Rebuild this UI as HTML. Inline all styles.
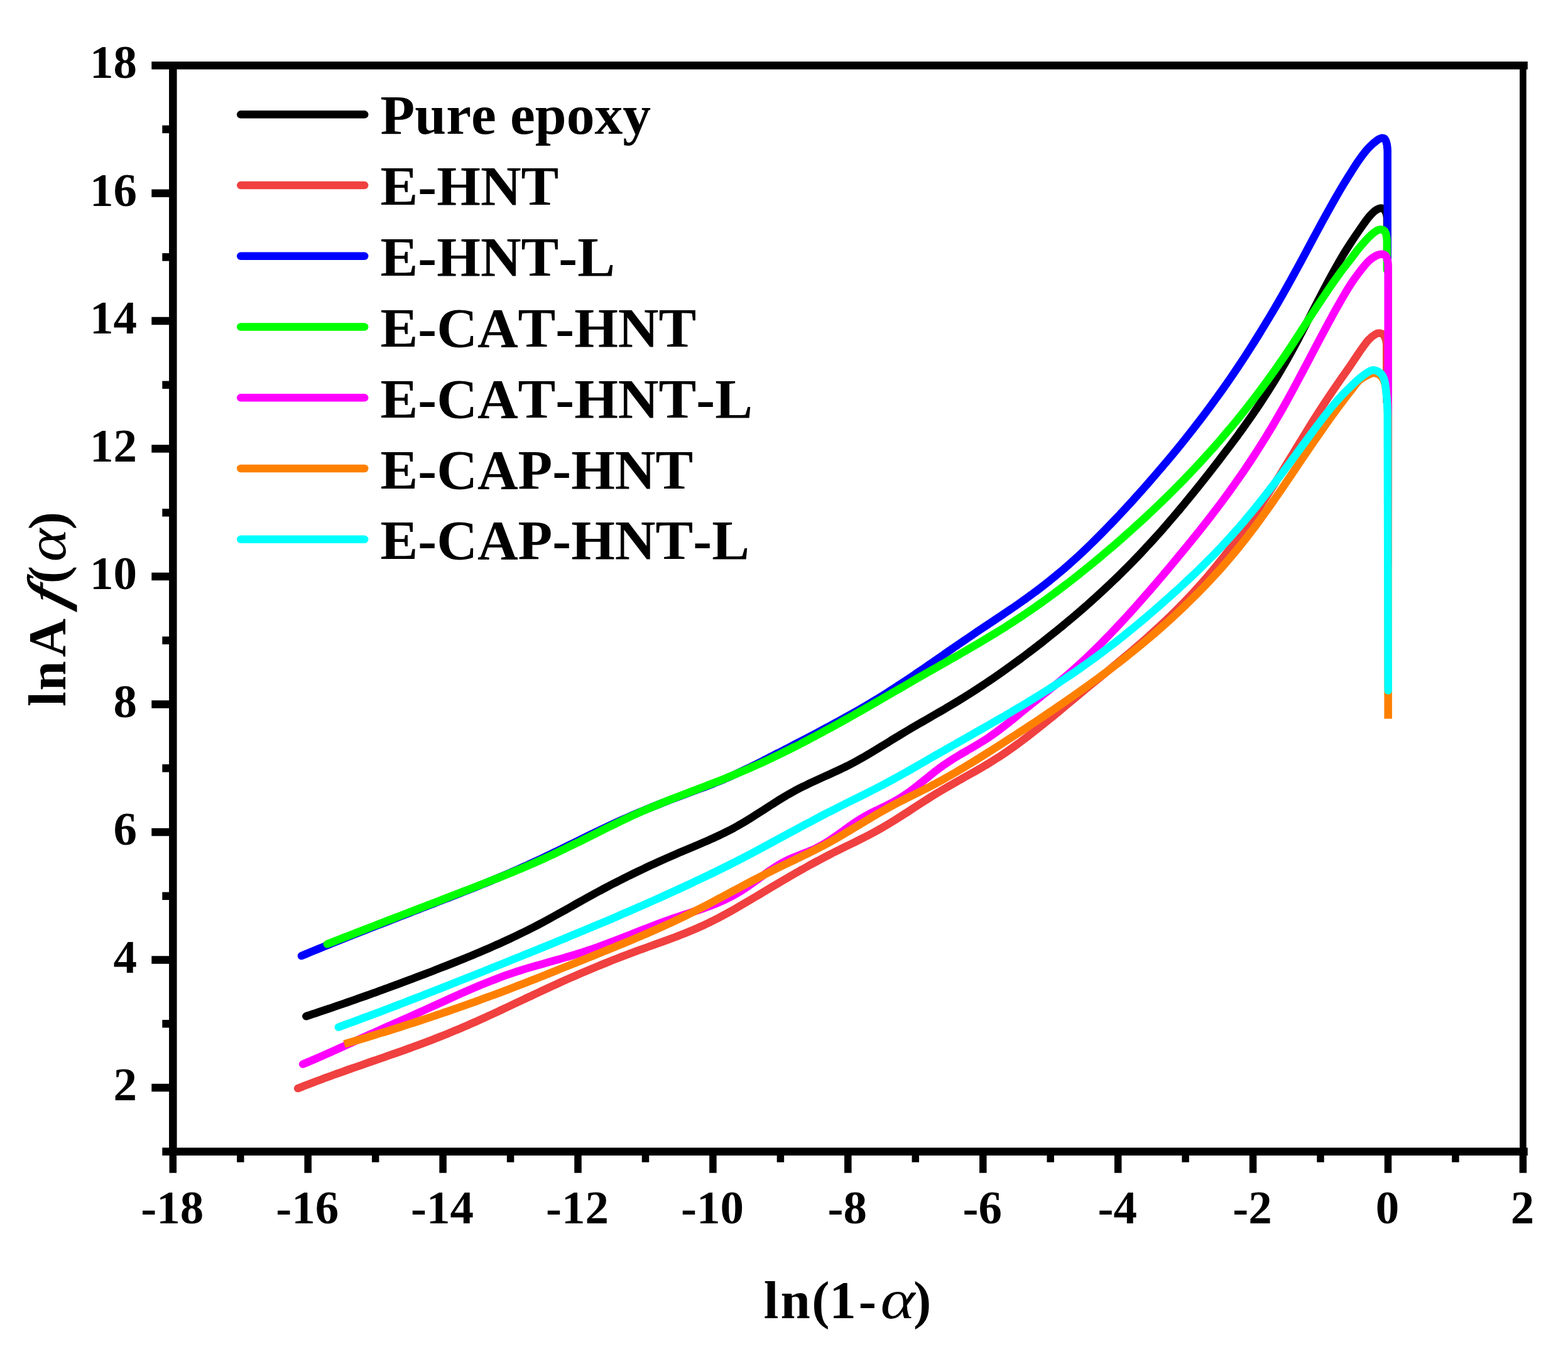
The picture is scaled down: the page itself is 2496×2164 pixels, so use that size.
<!DOCTYPE html>
<html lang="en"><head><meta charset="utf-8"><title>lnA f(α) vs ln(1-α)</title>
<style>html,body{margin:0;padding:0;background:#fff;overflow:hidden}svg{display:block}text{font-family:"Liberation Serif","DejaVu Serif",serif;fill:#000;font-weight:bold;font-kerning:none;white-space:pre}.i{font-style:italic}.n{font-weight:normal}.tk{font-size:75px}.lg{font-size:89.6px}.ti{font-size:85px}</style></head><body>
<svg xmlns="http://www.w3.org/2000/svg" width="2496" height="2164" viewBox="0 0 2496 2164">
<rect x="0" y="0" width="2496" height="2164" fill="#fff"/>
<g fill="none" stroke-width="12.5" stroke-linecap="round" stroke-linejoin="round">
<path stroke="#000000" d="M487.3 1618.2C489.3 1617.6 495.3 1615.6 499.3 1614.3C503.2 1613 507.2 1611.6 511.2 1610.3C515.2 1609 519.2 1607.6 523.2 1606.3C527.2 1604.9 531.2 1603.6 535.1 1602.2C539.1 1600.8 543.1 1599.5 547.1 1598.1C551.1 1596.7 555.1 1595.3 559.1 1593.9C563.1 1592.5 567 1591.1 571 1589.7C575 1588.3 579 1586.9 583 1585.5C587 1584.1 591 1582.6 595 1581.2C598.9 1579.8 602.9 1578.3 606.9 1576.9C610.9 1575.4 614.9 1574 618.9 1572.5C622.9 1571 626.9 1569.6 630.8 1568.1C634.8 1566.6 638.8 1565.1 642.8 1563.6C646.8 1562.1 650.8 1560.7 654.8 1559.2C658.8 1557.6 662.7 1556.1 666.7 1554.6C670.7 1553.1 674.7 1551.6 678.7 1550.1C682.7 1548.5 686.7 1547 690.7 1545.5C694.6 1543.9 698.6 1542.4 702.6 1540.8C706.6 1539.3 710.6 1537.7 714.6 1536.1C718.6 1534.6 722.6 1533 726.5 1531.4C730.5 1529.8 734.5 1528.2 738.5 1526.6C742.5 1524.9 746.5 1523.3 750.5 1521.7C754.4 1520 758.4 1518.4 762.4 1516.7C766.4 1515 770.4 1513.3 774.4 1511.6C778.4 1509.8 782.4 1508.1 786.3 1506.3C790.3 1504.6 794.3 1502.8 798.3 1501C802.3 1499.2 806.3 1497.4 810.3 1495.5C814.3 1493.6 818.2 1491.8 822.2 1489.9C826.2 1487.9 830.2 1486 834.2 1484C838.2 1482.1 842.2 1480.1 846.2 1478C850.1 1476 854.1 1474 858.1 1471.9C862.1 1469.8 866.1 1467.6 870.1 1465.5C874.1 1463.3 878.1 1461.1 882 1458.9C886 1456.7 890 1454.5 894 1452.3C898 1450.1 902 1447.8 906 1445.6C910 1443.3 913.9 1441.1 917.9 1438.8C921.9 1436.6 925.9 1434.3 929.9 1432.1C933.9 1429.9 937.9 1427.7 941.9 1425.5C945.8 1423.3 949.8 1421.1 953.8 1419C957.8 1416.8 961.8 1414.7 965.8 1412.6C969.8 1410.5 973.7 1408.4 977.7 1406.4C981.7 1404.3 985.7 1402.3 989.7 1400.3C993.7 1398.3 997.7 1396.3 1001.7 1394.4C1005.6 1392.4 1009.6 1390.4 1013.6 1388.5C1017.6 1386.6 1021.6 1384.7 1025.6 1382.8C1029.6 1380.9 1033.6 1379.1 1037.5 1377.2C1041.5 1375.4 1045.5 1373.6 1049.5 1371.8C1053.5 1370 1057.5 1368.2 1061.5 1366.4C1065.5 1364.6 1069.4 1362.9 1073.4 1361.2C1077.4 1359.4 1081.4 1357.7 1085.4 1356C1089.4 1354.3 1093.4 1352.6 1097.4 1350.9C1101.3 1349.3 1105.3 1347.6 1109.3 1345.9C1113.3 1344.2 1117.3 1342.5 1121.3 1340.8C1125.3 1339.1 1129.3 1337.3 1133.2 1335.6C1137.2 1333.8 1141.2 1331.9 1145.2 1330C1149.2 1328.2 1153.2 1326.2 1157.2 1324.2C1161.2 1322.2 1165.1 1320.1 1169.1 1317.9C1173.1 1315.7 1177.1 1313.5 1181.1 1311.1C1185.1 1308.8 1189.1 1306.3 1193.1 1303.9C1197 1301.4 1201 1298.9 1205 1296.3C1209 1293.8 1213 1291.2 1217 1288.7C1221 1286.1 1224.9 1283.5 1228.9 1281C1232.9 1278.4 1236.9 1275.9 1240.9 1273.4C1244.9 1271 1248.9 1268.6 1252.9 1266.2C1256.8 1263.9 1260.8 1261.6 1264.8 1259.4C1268.8 1257.3 1272.8 1255.2 1276.8 1253.2C1280.8 1251.2 1284.8 1249.3 1288.7 1247.4C1292.7 1245.5 1296.7 1243.7 1300.7 1241.8C1304.7 1240 1308.7 1238.2 1312.7 1236.4C1316.7 1234.6 1320.6 1232.9 1324.6 1231C1328.6 1229.2 1332.6 1227.4 1336.6 1225.5C1340.6 1223.6 1344.6 1221.7 1348.6 1219.7C1352.5 1217.6 1356.5 1215.5 1360.5 1213.4C1364.5 1211.2 1368.5 1209 1372.5 1206.8C1376.5 1204.5 1380.5 1202.1 1384.4 1199.8C1388.4 1197.4 1392.4 1195 1396.4 1192.6C1400.4 1190.2 1404.4 1187.7 1408.4 1185.3C1412.4 1182.9 1416.3 1180.4 1420.3 1177.9C1424.3 1175.5 1428.3 1173.1 1432.3 1170.6C1436.3 1168.2 1440.3 1165.8 1444.2 1163.5C1448.2 1161.1 1452.2 1158.8 1456.2 1156.4C1460.2 1154.1 1464.2 1151.8 1468.2 1149.5C1472.2 1147.2 1476.1 1144.9 1480.1 1142.6C1484.1 1140.3 1488.1 1138 1492.1 1135.7C1496.1 1133.4 1500.1 1131.1 1504.1 1128.8C1508 1126.4 1512 1124.1 1516 1121.7C1520 1119.3 1524 1116.9 1528 1114.4C1532 1112 1536 1109.5 1539.9 1107C1543.9 1104.5 1547.9 1101.9 1551.9 1099.4C1555.9 1096.8 1559.9 1094.2 1563.9 1091.5C1567.9 1088.9 1571.8 1086.2 1575.8 1083.5C1579.8 1080.8 1583.8 1078.1 1587.8 1075.3C1591.8 1072.5 1595.8 1069.7 1599.8 1066.9C1603.7 1064.1 1607.7 1061.2 1611.7 1058.3C1615.7 1055.4 1619.7 1052.5 1623.7 1049.6C1627.7 1046.6 1631.7 1043.6 1635.6 1040.6C1639.6 1037.6 1643.6 1034.6 1647.6 1031.5C1651.6 1028.4 1655.6 1025.3 1659.6 1022.2C1663.6 1019.1 1667.5 1015.9 1671.5 1012.7C1675.5 1009.5 1679.5 1006.3 1683.5 1003.1C1687.5 999.8 1691.5 996.6 1695.4 993.2C1699.4 989.9 1703.4 986.6 1707.4 983.2C1711.4 979.9 1715.4 976.4 1719.4 973C1723.4 969.6 1727.3 966.1 1731.3 962.6C1735.3 959 1739.3 955.5 1743.3 951.9C1747.3 948.3 1751.3 944.6 1755.3 940.9C1759.2 937.2 1763.2 933.5 1767.2 929.7C1771.2 925.9 1775.2 922.1 1779.2 918.2C1783.2 914.4 1787.2 910.4 1791.1 906.4C1795.1 902.5 1799.1 898.4 1803.1 894.3C1807.1 890.3 1811.1 886.1 1815.1 881.9C1819.1 877.7 1823 873.4 1827 869.1C1831 864.8 1835 860.4 1839 856C1843 851.6 1847 847.1 1851 842.6C1854.9 838 1858.9 833.5 1862.9 828.8C1866.9 824.2 1870.9 819.5 1874.9 814.8C1878.9 810 1882.9 805.3 1886.8 800.4C1890.8 795.6 1894.8 790.7 1898.8 785.8C1902.8 780.9 1906.8 775.9 1910.8 770.9C1914.7 765.9 1918.7 760.9 1922.7 755.8C1926.7 750.7 1930.7 745.6 1934.7 740.4C1938.7 735.3 1942.7 730.1 1946.6 724.8C1950.6 719.6 1954.6 714.3 1958.6 709C1962.6 703.7 1966.6 698.3 1970.6 692.9C1974.6 687.4 1978.5 681.9 1982.5 676.3C1986.5 670.7 1990.5 665 1994.5 659.2C1998.5 653.4 2002.5 647.5 2006.5 641.5C2010.4 635.5 2014.4 629.3 2018.4 623.1C2022.4 616.8 2026.4 610.4 2030.4 603.9C2034.4 597.3 2038.4 590.6 2042.3 583.7C2046.3 576.9 2050.3 569.8 2054.3 562.6C2058.3 555.4 2062.3 548 2066.3 540.5C2070.3 533 2074.2 525.3 2078.2 517.6C2082.2 509.9 2086.2 502.1 2090.2 494.4C2094.2 486.6 2098.2 478.8 2102.2 471.2C2106.1 463.5 2110.1 455.9 2114.1 448.5C2118.1 441 2122.1 433.7 2126.1 426.6C2130.1 419.5 2134.1 412.6 2138 406C2142 399.4 2145.8 393.5 2150 387C2154.2 380.5 2158.8 373.7 2163.5 367C2168.2 360.3 2173.7 352 2178 346.7C2182.2 341.6 2186.1 337.6 2189.6 335.1C2192.9 332.7 2196.5 331.5 2199 331.5C2201.5 331.5 2203.1 332.8 2204.5 335C2206 337.4 2207.7 341.4 2208 346L2208.5 400"/>
<path stroke="#F04040" d="M474.2 1733.1C476.2 1732.3 482.2 1729.9 486.2 1728.4C490.2 1726.8 494.1 1725.3 498.1 1723.8C502.1 1722.2 506.1 1720.7 510.1 1719.3C514.1 1717.8 518.1 1716.3 522.1 1714.9C526.1 1713.4 530.1 1712 534 1710.5C538 1709.1 542 1707.7 546 1706.3C550 1704.8 554 1703.4 558 1702C562 1700.6 566 1699.2 570 1697.9C574 1696.5 577.9 1695.1 581.9 1693.7C585.9 1692.3 589.9 1690.9 593.9 1689.5C597.9 1688.2 601.9 1686.8 605.9 1685.4C609.9 1684 613.8 1682.6 617.8 1681.2C621.8 1679.8 625.8 1678.4 629.8 1677C633.8 1675.6 637.8 1674.2 641.8 1672.8C645.8 1671.3 649.8 1669.9 653.8 1668.5C657.7 1667 661.7 1665.6 665.7 1664.1C669.7 1662.6 673.7 1661.1 677.7 1659.6C681.7 1658.1 685.7 1656.6 689.7 1655.1C693.6 1653.5 697.6 1652 701.6 1650.4C705.6 1648.8 709.6 1647.2 713.6 1645.6C717.6 1644 721.6 1642.3 725.6 1640.6C729.6 1639 733.5 1637.3 737.5 1635.6C741.5 1633.8 745.5 1632.1 749.5 1630.3C753.5 1628.6 757.5 1626.8 761.5 1625C765.5 1623.2 769.5 1621.4 773.5 1619.6C777.4 1617.8 781.4 1615.9 785.4 1614.1C789.4 1612.2 793.4 1610.4 797.4 1608.5C801.4 1606.6 805.4 1604.8 809.4 1602.9C813.3 1601 817.3 1599.1 821.3 1597.2C825.3 1595.4 829.3 1593.5 833.3 1591.6C837.3 1589.7 841.3 1587.8 845.3 1586C849.3 1584.1 853.2 1582.2 857.2 1580.3C861.2 1578.5 865.2 1576.6 869.2 1574.8C873.2 1572.9 877.2 1571.1 881.2 1569.2C885.2 1567.4 889.2 1565.6 893.1 1563.8C897.1 1562 901.1 1560.2 905.1 1558.4C909.1 1556.7 913.1 1554.9 917.1 1553.2C921.1 1551.4 925.1 1549.7 929.1 1548C933 1546.3 937 1544.6 941 1542.9C945 1541.3 949 1539.6 953 1538C957 1536.3 961 1534.7 965 1533.1C969 1531.5 972.9 1529.9 976.9 1528.3C980.9 1526.7 984.9 1525.2 988.9 1523.6C992.9 1522.1 996.9 1520.6 1000.9 1519.1C1004.9 1517.6 1008.9 1516.1 1012.8 1514.6C1016.8 1513.2 1020.8 1511.7 1024.8 1510.3C1028.8 1508.9 1032.8 1507.5 1036.8 1506C1040.8 1504.6 1044.8 1503.2 1048.8 1501.7C1052.8 1500.3 1056.7 1498.9 1060.7 1497.4C1064.7 1495.9 1068.7 1494.5 1072.7 1493C1076.7 1491.4 1080.7 1489.9 1084.7 1488.3C1088.7 1486.8 1092.6 1485.2 1096.6 1483.5C1100.6 1481.9 1104.6 1480.2 1108.6 1478.5C1112.6 1476.7 1116.6 1474.9 1120.6 1473.1C1124.6 1471.2 1128.6 1469.3 1132.5 1467.3C1136.5 1465.3 1140.5 1463.3 1144.5 1461.2C1148.5 1459.1 1152.5 1456.9 1156.5 1454.8C1160.5 1452.6 1164.5 1450.3 1168.5 1448.1C1172.5 1445.8 1176.4 1443.5 1180.4 1441.2C1184.4 1438.9 1188.4 1436.5 1192.4 1434.2C1196.4 1431.8 1200.4 1429.4 1204.4 1427C1208.4 1424.7 1212.3 1422.3 1216.3 1419.9C1220.3 1417.5 1224.3 1415.1 1228.3 1412.7C1232.3 1410.3 1236.3 1408 1240.3 1405.6C1244.3 1403.2 1248.3 1400.9 1252.2 1398.6C1256.2 1396.2 1260.2 1393.9 1264.2 1391.6C1268.2 1389.3 1272.2 1387 1276.2 1384.8C1280.2 1382.5 1284.2 1380.3 1288.2 1378.1C1292.1 1375.9 1296.1 1373.7 1300.1 1371.6C1304.1 1369.4 1308.1 1367.3 1312.1 1365.2C1316.1 1363.1 1320.1 1361.1 1324.1 1359C1328.1 1357 1332 1355 1336 1353.1C1340 1351.1 1344 1349.1 1348 1347.2C1352 1345.2 1356 1343.3 1360 1341.3C1364 1339.3 1368 1337.4 1371.9 1335.3C1375.9 1333.3 1379.9 1331.3 1383.9 1329.2C1387.9 1327.1 1391.9 1325 1395.9 1322.8C1399.9 1320.5 1403.9 1318.3 1407.9 1315.9C1411.8 1313.6 1415.8 1311.2 1419.8 1308.7C1423.8 1306.3 1427.8 1303.8 1431.8 1301.2C1435.8 1298.7 1439.8 1296.1 1443.8 1293.6C1447.8 1291 1451.8 1288.4 1455.7 1285.8C1459.7 1283.2 1463.7 1280.6 1467.7 1278C1471.7 1275.4 1475.7 1272.9 1479.7 1270.4C1483.7 1267.8 1487.7 1265.3 1491.6 1262.9C1495.6 1260.5 1499.6 1258.1 1503.6 1255.8C1507.6 1253.4 1511.6 1251.1 1515.6 1248.9C1519.6 1246.6 1523.6 1244.4 1527.6 1242.1C1531.5 1239.9 1535.5 1237.7 1539.5 1235.4C1543.5 1233.2 1547.5 1230.9 1551.5 1228.7C1555.5 1226.4 1559.5 1224.1 1563.5 1221.8C1567.5 1219.4 1571.4 1217.1 1575.4 1214.6C1579.4 1212.2 1583.4 1209.7 1587.4 1207.1C1591.4 1204.6 1595.4 1201.9 1599.4 1199.2C1603.4 1196.5 1607.4 1193.7 1611.3 1190.9C1615.3 1188.1 1619.3 1185.1 1623.3 1182.2C1627.3 1179.2 1631.3 1176.2 1635.3 1173.2C1639.3 1170.1 1643.3 1167 1647.3 1163.9C1651.2 1160.8 1655.2 1157.6 1659.2 1154.4C1663.2 1151.2 1667.2 1148 1671.2 1144.7C1675.2 1141.5 1679.2 1138.2 1683.2 1134.9C1687.2 1131.6 1691.1 1128.3 1695.1 1125C1699.1 1121.6 1703.1 1118.3 1707.1 1115C1711.1 1111.7 1715.1 1108.3 1719.1 1105C1723.1 1101.7 1727.1 1098.4 1731 1095.1C1735 1091.8 1739 1088.5 1743 1085.2C1747 1082 1751 1078.7 1755 1075.4C1759 1072.1 1763 1068.8 1767 1065.5C1770.9 1062.2 1774.9 1058.9 1778.9 1055.6C1782.9 1052.3 1786.9 1049 1790.9 1045.6C1794.9 1042.2 1798.9 1038.9 1802.9 1035.5C1806.9 1032 1810.8 1028.6 1814.8 1025.1C1818.8 1021.6 1822.8 1018.1 1826.8 1014.6C1830.8 1011 1834.8 1007.4 1838.8 1003.7C1842.8 1000.1 1846.8 996.4 1850.8 992.6C1854.7 988.9 1858.7 985.1 1862.7 981.2C1866.7 977.3 1870.7 973.4 1874.7 969.3C1878.7 965.3 1882.7 961.2 1886.7 957.1C1890.6 952.9 1894.6 948.7 1898.6 944.4C1902.6 940 1906.6 935.6 1910.6 931.2C1914.6 926.7 1918.6 922.1 1922.6 917.5C1926.6 912.8 1930.5 908.1 1934.5 903.2C1938.5 898.4 1942.5 893.5 1946.5 888.5C1950.5 883.5 1954.5 878.3 1958.5 873.1C1962.5 867.9 1966.5 862.6 1970.4 857.2C1974.4 851.8 1978.4 846.3 1982.4 840.7C1986.4 835 1990.4 829.3 1994.4 823.5C1998.4 817.6 2002.4 811.7 2006.4 805.6C2010.3 799.6 2014.3 793.4 2018.3 787.1C2022.3 780.9 2026.3 774.5 2030.3 768.1C2034.3 761.7 2038.3 755.2 2042.3 748.6C2046.3 742.1 2050.2 735.5 2054.2 729C2058.2 722.4 2062.2 715.8 2066.2 709.3C2070.2 702.7 2074.2 696.2 2078.2 689.7C2082.2 683.2 2086.2 676.8 2090.1 670.4C2094.1 664.1 2098.1 657.8 2102.1 651.6C2106.1 645.4 2110.1 639.4 2114.1 633.4C2118.1 627.4 2122.1 621.6 2126.1 615.8C2130.1 610 2134 604.3 2138 598.6C2142 592.9 2145.8 587.8 2150 581.6C2154.2 575.3 2158.8 568 2163.5 561.3C2168.2 554.6 2173.7 546.5 2178 541.6C2182 537.1 2186.4 533.9 2189.6 532.1C2192.2 530.6 2194.6 530.3 2196.9 530.7C2199.2 531.1 2201.8 531.9 2203.3 534.5C2205 537.4 2207 542.4 2207.2 548L2207.5 640"/>
<path stroke="#0000FF" d="M480 1522C482 1521.2 488 1518.7 492 1517C496 1515.4 500 1513.7 504 1512.1C508 1510.5 512 1508.8 516 1507.2C520 1505.6 524.1 1504 528.1 1502.3C532.1 1500.7 536.1 1499.1 540.1 1497.5C544.1 1495.9 548.1 1494.3 552.1 1492.7C556.1 1491.1 560.1 1489.5 564.1 1488C568.1 1486.4 572.1 1484.8 576.1 1483.2C580.1 1481.6 584.1 1480.1 588.1 1478.5C592.1 1476.9 596.1 1475.4 600.1 1473.8C604.1 1472.3 608.2 1470.7 612.2 1469.1C616.2 1467.6 620.2 1466 624.2 1464.5C628.2 1462.9 632.2 1461.4 636.2 1459.8C640.2 1458.3 644.2 1456.7 648.2 1455.2C652.2 1453.6 656.2 1452 660.2 1450.5C664.2 1448.9 668.2 1447.4 672.2 1445.8C676.2 1444.3 680.2 1442.7 684.2 1441.2C688.2 1439.6 692.3 1438.1 696.3 1436.5C700.3 1435 704.3 1433.4 708.3 1431.8C712.3 1430.3 716.3 1428.7 720.3 1427.1C724.3 1425.6 728.3 1424 732.3 1422.4C736.3 1420.8 740.3 1419.3 744.3 1417.7C748.3 1416.1 752.3 1414.5 756.3 1412.9C760.3 1411.2 764.3 1409.6 768.3 1408C772.4 1406.4 776.4 1404.7 780.4 1403.1C784.4 1401.4 788.4 1399.8 792.4 1398.1C796.4 1396.4 800.4 1394.7 804.4 1393C808.4 1391.3 812.4 1389.5 816.4 1387.8C820.4 1386 824.4 1384.3 828.4 1382.5C832.4 1380.7 836.4 1378.9 840.4 1377.1C844.4 1375.3 848.4 1373.4 852.4 1371.5C856.5 1369.7 860.5 1367.8 864.5 1365.9C868.5 1364 872.5 1362 876.5 1360.1C880.5 1358.2 884.5 1356.2 888.5 1354.3C892.5 1352.3 896.5 1350.4 900.5 1348.4C904.5 1346.4 908.5 1344.5 912.5 1342.5C916.5 1340.5 920.5 1338.6 924.5 1336.6C928.5 1334.6 932.5 1332.7 936.5 1330.7C940.6 1328.8 944.6 1326.8 948.6 1324.9C952.6 1323 956.6 1321.1 960.6 1319.2C964.6 1317.3 968.6 1315.4 972.6 1313.5C976.6 1311.7 980.6 1309.8 984.6 1308C988.6 1306.2 992.6 1304.4 996.6 1302.6C1000.6 1300.8 1004.6 1299.1 1008.6 1297.3C1012.6 1295.6 1016.6 1293.9 1020.6 1292.2C1024.7 1290.6 1028.7 1288.9 1032.7 1287.3C1036.7 1285.6 1040.7 1284 1044.7 1282.4C1048.7 1280.8 1052.7 1279.2 1056.7 1277.7C1060.7 1276.1 1064.7 1274.5 1068.7 1273C1072.7 1271.5 1076.7 1270 1080.7 1268.5C1084.7 1267 1088.7 1265.5 1092.7 1264C1096.7 1262.5 1100.7 1261 1104.7 1259.5C1108.8 1258 1112.8 1256.5 1116.8 1255C1120.8 1253.5 1124.8 1252 1128.8 1250.4C1132.8 1248.8 1136.8 1247.3 1140.8 1245.6C1144.8 1244 1148.8 1242.4 1152.8 1240.7C1156.8 1239 1160.8 1237.2 1164.8 1235.4C1168.8 1233.7 1172.8 1231.8 1176.8 1229.9C1180.8 1228.1 1184.8 1226.2 1188.8 1224.2C1192.9 1222.3 1196.9 1220.3 1200.9 1218.3C1204.9 1216.3 1208.9 1214.3 1212.9 1212.3C1216.9 1210.3 1220.9 1208.2 1224.9 1206.1C1228.9 1204.1 1232.9 1202 1236.9 1199.9C1240.9 1197.9 1244.9 1195.8 1248.9 1193.7C1252.9 1191.7 1256.9 1189.6 1260.9 1187.5C1264.9 1185.4 1268.9 1183.4 1272.9 1181.3C1277 1179.2 1281 1177.1 1285 1175C1289 1172.9 1293 1170.8 1297 1168.7C1301 1166.6 1305 1164.5 1309 1162.3C1313 1160.2 1317 1158 1321 1155.9C1325 1153.7 1329 1151.5 1333 1149.4C1337 1147.2 1341 1145 1345 1142.7C1349 1140.5 1353 1138.3 1357.1 1136C1361.1 1133.8 1365.1 1131.5 1369.1 1129.2C1373.1 1126.8 1377.1 1124.5 1381.1 1122.1C1385.1 1119.8 1389.1 1117.4 1393.1 1114.9C1397.1 1112.5 1401.1 1110 1405.1 1107.5C1409.1 1105 1413.1 1102.4 1417.1 1099.9C1421.1 1097.3 1425.1 1094.7 1429.1 1092.1C1433.1 1089.5 1437.1 1086.8 1441.2 1084.1C1445.2 1081.5 1449.2 1078.8 1453.2 1076.1C1457.2 1073.4 1461.2 1070.6 1465.2 1067.9C1469.2 1065.2 1473.2 1062.4 1477.2 1059.7C1481.2 1056.9 1485.2 1054.1 1489.2 1051.4C1493.2 1048.6 1497.2 1045.8 1501.2 1043.1C1505.2 1040.3 1509.2 1037.5 1513.2 1034.8C1517.2 1032 1521.2 1029.2 1525.3 1026.5C1529.3 1023.7 1533.3 1021 1537.3 1018.3C1541.3 1015.5 1545.3 1012.8 1549.3 1010.1C1553.3 1007.4 1557.3 1004.7 1561.3 1002.1C1565.3 999.4 1569.3 996.7 1573.3 994C1577.3 991.4 1581.3 988.7 1585.3 986C1589.3 983.3 1593.3 980.7 1597.3 978C1601.3 975.3 1605.3 972.5 1609.4 969.8C1613.4 967.1 1617.4 964.3 1621.4 961.5C1625.4 958.7 1629.4 955.9 1633.4 953C1637.4 950.1 1641.4 947.2 1645.4 944.3C1649.4 941.3 1653.4 938.3 1657.4 935.2C1661.4 932.2 1665.4 929.1 1669.4 925.9C1673.4 922.7 1677.4 919.5 1681.4 916.1C1685.4 912.8 1689.4 909.4 1693.5 906C1697.5 902.5 1701.5 899 1705.5 895.4C1709.5 891.8 1713.5 888.2 1717.5 884.5C1721.5 880.8 1725.5 877 1729.5 873.2C1733.5 869.3 1737.5 865.4 1741.5 861.5C1745.5 857.5 1749.5 853.5 1753.5 849.5C1757.5 845.4 1761.5 841.3 1765.5 837.2C1769.5 833.1 1773.5 828.9 1777.6 824.6C1781.6 820.4 1785.6 816.1 1789.6 811.8C1793.6 807.4 1797.6 803.1 1801.6 798.7C1805.6 794.2 1809.6 789.8 1813.6 785.3C1817.6 780.8 1821.6 776.3 1825.6 771.8C1829.6 767.2 1833.6 762.6 1837.6 758C1841.6 753.4 1845.6 748.7 1849.6 744C1853.6 739.3 1857.6 734.6 1861.7 729.8C1865.7 725 1869.7 720.1 1873.7 715.2C1877.7 710.4 1881.7 705.4 1885.7 700.4C1889.7 695.4 1893.7 690.3 1897.7 685.2C1901.7 680.1 1905.7 674.9 1909.7 669.7C1913.7 664.4 1917.7 659.1 1921.7 653.8C1925.7 648.4 1929.7 643 1933.7 637.4C1937.7 631.9 1941.8 626.4 1945.8 620.7C1949.8 615 1953.8 609.3 1957.8 603.5C1961.8 597.7 1965.8 591.8 1969.8 585.8C1973.8 579.8 1977.8 573.7 1981.8 567.6C1985.8 561.4 1989.8 555.2 1993.8 548.9C1997.8 542.6 2001.8 536.1 2005.8 529.6C2009.8 523.1 2013.8 516.6 2017.8 509.9C2021.8 503.2 2025.9 496.5 2029.9 489.6C2033.9 482.8 2037.9 475.8 2041.9 468.8C2045.9 461.8 2049.9 454.6 2053.9 447.4C2057.9 440.2 2061.9 432.9 2065.9 425.6C2069.9 418.2 2073.9 410.7 2077.9 403.3C2081.9 395.8 2085.9 388.3 2089.9 380.8C2093.9 373.4 2097.9 365.9 2101.9 358.5C2105.9 351.1 2110 343.7 2114 336.5C2118 329.3 2122 322.1 2126 315.1C2130 308.2 2134 301.3 2138 294.6C2142 288 2145.7 281.9 2150 275.3C2154.3 268.6 2158.8 261.1 2163.5 254.6C2168.2 248.1 2173.2 241.3 2178 236.1C2182.8 230.8 2188.7 225.8 2192.5 223.1C2195.5 221 2198.8 219.5 2201 219.7C2203.2 219.8 2205.1 221.5 2206 224C2207.3 227.4 2208.6 233.5 2208.7 240L2208.7 430"/>
<path stroke="#00FF00" d="M520.9 1503.3C522.9 1502.5 528.9 1500.2 532.9 1498.6C536.9 1497 540.9 1495.5 544.9 1493.9C548.9 1492.4 552.8 1490.8 556.8 1489.3C560.8 1487.7 564.8 1486.1 568.8 1484.6C572.8 1483 576.8 1481.5 580.8 1479.9C584.8 1478.4 588.8 1476.9 592.8 1475.3C596.8 1473.8 600.8 1472.2 604.8 1470.7C608.7 1469.1 612.7 1467.6 616.7 1466C620.7 1464.5 624.7 1463 628.7 1461.4C632.7 1459.9 636.7 1458.4 640.7 1456.8C644.7 1455.3 648.7 1453.7 652.7 1452.2C656.7 1450.7 660.7 1449.1 664.6 1447.6C668.6 1446.1 672.6 1444.5 676.6 1443C680.6 1441.4 684.6 1439.9 688.6 1438.4C692.6 1436.8 696.6 1435.3 700.6 1433.8C704.6 1432.2 708.6 1430.7 712.6 1429.2C716.6 1427.6 720.5 1426.1 724.5 1424.5C728.5 1423 732.5 1421.5 736.5 1419.9C740.5 1418.4 744.5 1416.8 748.5 1415.3C752.5 1413.8 756.5 1412.2 760.5 1410.7C764.5 1409.1 768.5 1407.6 772.5 1406C776.4 1404.5 780.4 1402.9 784.4 1401.3C788.4 1399.8 792.4 1398.2 796.4 1396.6C800.4 1395 804.4 1393.4 808.4 1391.8C812.4 1390.2 816.4 1388.5 820.4 1386.9C824.4 1385.2 828.4 1383.6 832.3 1381.9C836.3 1380.2 840.3 1378.5 844.3 1376.8C848.3 1375.1 852.3 1373.3 856.3 1371.6C860.3 1369.8 864.3 1368 868.3 1366.2C872.3 1364.3 876.3 1362.5 880.3 1360.6C884.3 1358.8 888.2 1356.9 892.2 1354.9C896.2 1353 900.2 1351.1 904.2 1349.1C908.2 1347.2 912.2 1345.2 916.2 1343.2C920.2 1341.3 924.2 1339.3 928.2 1337.3C932.2 1335.3 936.2 1333.3 940.2 1331.3C944.1 1329.3 948.1 1327.3 952.1 1325.3C956.1 1323.3 960.1 1321.3 964.1 1319.3C968.1 1317.4 972.1 1315.4 976.1 1313.5C980.1 1311.5 984.1 1309.6 988.1 1307.6C992.1 1305.7 996.1 1303.8 1000 1302C1004 1300.1 1008 1298.2 1012 1296.4C1016 1294.6 1020 1292.8 1024 1291.1C1028 1289.3 1032 1287.6 1036 1285.9C1040 1284.2 1044 1282.6 1048 1280.9C1052 1279.3 1055.9 1277.7 1059.9 1276.1C1063.9 1274.5 1067.9 1272.9 1071.9 1271.4C1075.9 1269.8 1079.9 1268.3 1083.9 1266.7C1087.9 1265.2 1091.9 1263.7 1095.9 1262.1C1099.9 1260.6 1103.9 1259.1 1107.9 1257.6C1111.8 1256.1 1115.8 1254.5 1119.8 1253C1123.8 1251.5 1127.8 1250 1131.8 1248.4C1135.8 1246.9 1139.8 1245.3 1143.8 1243.8C1147.8 1242.2 1151.8 1240.6 1155.8 1239C1159.8 1237.4 1163.8 1235.8 1167.7 1234.1C1171.7 1232.5 1175.7 1230.8 1179.7 1229.1C1183.7 1227.4 1187.7 1225.7 1191.7 1224C1195.7 1222.2 1199.7 1220.4 1203.7 1218.6C1207.7 1216.8 1211.7 1215 1215.7 1213.2C1219.7 1211.3 1223.6 1209.4 1227.6 1207.6C1231.6 1205.7 1235.6 1203.7 1239.6 1201.8C1243.6 1199.9 1247.6 1197.9 1251.6 1195.9C1255.6 1194 1259.6 1192 1263.6 1189.9C1267.6 1187.9 1271.6 1185.9 1275.6 1183.8C1279.5 1181.8 1283.5 1179.7 1287.5 1177.6C1291.5 1175.5 1295.5 1173.4 1299.5 1171.3C1303.5 1169.2 1307.5 1167 1311.5 1164.8C1315.5 1162.7 1319.5 1160.5 1323.5 1158.3C1327.5 1156.1 1331.5 1153.9 1335.4 1151.7C1339.4 1149.5 1343.4 1147.3 1347.4 1145C1351.4 1142.8 1355.4 1140.6 1359.4 1138.3C1363.4 1136 1367.4 1133.8 1371.4 1131.5C1375.4 1129.2 1379.4 1126.9 1383.4 1124.6C1387.4 1122.3 1391.4 1120 1395.3 1117.8C1399.3 1115.5 1403.3 1113.1 1407.3 1110.8C1411.3 1108.5 1415.3 1106.2 1419.3 1103.9C1423.3 1101.6 1427.3 1099.3 1431.3 1097C1435.3 1094.7 1439.3 1092.4 1443.3 1090.1C1447.3 1087.7 1451.2 1085.4 1455.2 1083.1C1459.2 1080.8 1463.2 1078.5 1467.2 1076.3C1471.2 1074 1475.2 1071.7 1479.2 1069.4C1483.2 1067.1 1487.2 1064.9 1491.2 1062.6C1495.2 1060.3 1499.2 1058 1503.2 1055.8C1507.1 1053.5 1511.1 1051.2 1515.1 1048.9C1519.1 1046.7 1523.1 1044.4 1527.1 1042.1C1531.1 1039.8 1535.1 1037.5 1539.1 1035.2C1543.1 1032.9 1547.1 1030.5 1551.1 1028.2C1555.1 1025.9 1559.1 1023.5 1563 1021.1C1567 1018.8 1571 1016.4 1575 1013.9C1579 1011.5 1583 1009.1 1587 1006.6C1591 1004.2 1595 1001.7 1599 999.2C1603 996.6 1607 994.1 1611 991.5C1615 988.9 1618.9 986.3 1622.9 983.7C1626.9 981 1630.9 978.3 1634.9 975.6C1638.9 972.9 1642.9 970.2 1646.9 967.4C1650.9 964.6 1654.9 961.8 1658.9 958.9C1662.9 956 1666.9 953.2 1670.9 950.2C1674.8 947.3 1678.8 944.4 1682.8 941.4C1686.8 938.4 1690.8 935.4 1694.8 932.3C1698.8 929.3 1702.8 926.2 1706.8 923.1C1710.8 919.9 1714.8 916.8 1718.8 913.6C1722.8 910.4 1726.8 907.2 1730.7 904C1734.7 900.8 1738.7 897.5 1742.7 894.2C1746.7 890.9 1750.7 887.6 1754.7 884.2C1758.7 880.9 1762.7 877.5 1766.7 874.1C1770.7 870.7 1774.7 867.2 1778.7 863.8C1782.7 860.3 1786.6 856.8 1790.6 853.3C1794.6 849.7 1798.6 846.2 1802.6 842.6C1806.6 839 1810.6 835.4 1814.6 831.7C1818.6 828.1 1822.6 824.4 1826.6 820.6C1830.6 816.9 1834.6 813.1 1838.6 809.3C1842.5 805.5 1846.5 801.7 1850.5 797.8C1854.5 793.9 1858.5 790 1862.5 786.1C1866.5 782.1 1870.5 778.1 1874.5 774C1878.5 770 1882.5 765.9 1886.5 761.8C1890.5 757.6 1894.5 753.5 1898.4 749.2C1902.4 745 1906.4 740.7 1910.4 736.4C1914.4 732.1 1918.4 727.7 1922.4 723.3C1926.4 718.8 1930.4 714.4 1934.4 709.8C1938.4 705.3 1942.4 700.7 1946.4 696C1950.4 691.4 1954.3 686.7 1958.3 681.9C1962.3 677.1 1966.3 672.3 1970.3 667.4C1974.3 662.5 1978.3 657.5 1982.3 652.5C1986.3 647.4 1990.3 642.3 1994.3 637.1C1998.3 631.9 2002.3 626.7 2006.3 621.3C2010.2 616 2014.2 610.5 2018.2 605C2022.2 599.5 2026.2 593.9 2030.2 588.3C2034.2 582.6 2038.2 576.8 2042.2 571C2046.2 565.1 2050.2 559.2 2054.2 553.2C2058.2 547.1 2062.2 541 2066.1 534.9C2070.1 528.8 2074.1 522.6 2078.1 516.4C2082.1 510.2 2086.1 504 2090.1 497.9C2094.1 491.7 2098.1 485.6 2102.1 479.6C2106.1 473.6 2110.1 467.6 2114.1 461.7C2118.1 455.9 2122 450.1 2126 444.5C2130 438.9 2134 433.4 2138 428.1C2142 422.8 2145.8 418.3 2150 412.8C2154.2 407.2 2158.8 400.7 2163.5 395C2168.2 389.3 2173.7 383 2178 378.6C2182.3 374.2 2186.2 370.6 2189.6 368.4C2192.7 366.4 2195.7 365.3 2198.3 365.5C2200.9 365.7 2203.5 366.8 2205 369.5C2206.6 372.4 2207.5 377.5 2207.8 383L2207.9 430"/>
<path stroke="#FF00FF" d="M482.2 1694.5C484.2 1693.7 490.2 1691.2 494.2 1689.5C498.2 1687.8 502.2 1686.1 506.2 1684.3C510.2 1682.6 514.2 1680.8 518.2 1679.1C522.2 1677.3 526.2 1675.5 530.2 1673.7C534.2 1671.9 538.2 1670.1 542.2 1668.3C546.2 1666.5 550.2 1664.7 554.2 1662.9C558.2 1661 562.2 1659.2 566.2 1657.4C570.2 1655.6 574.2 1653.8 578.2 1652C582.2 1650.1 586.2 1648.3 590.2 1646.5C594.2 1644.7 598.2 1643 602.2 1641.2C606.2 1639.4 610.2 1637.6 614.2 1635.8C618.2 1634.1 622.2 1632.3 626.2 1630.5C630.2 1628.8 634.2 1627 638.2 1625.2C642.2 1623.4 646.2 1621.7 650.2 1619.9C654.2 1618.1 658.2 1616.3 662.2 1614.5C666.2 1612.7 670.2 1610.9 674.2 1609.1C678.2 1607.3 682.2 1605.5 686.2 1603.6C690.2 1601.8 694.2 1600 698.2 1598.2C702.2 1596.3 706.2 1594.5 710.2 1592.7C714.2 1590.9 718.2 1589.1 722.2 1587.3C726.2 1585.5 730.2 1583.7 734.2 1581.9C738.2 1580.1 742.2 1578.4 746.2 1576.6C750.2 1574.9 754.2 1573.2 758.2 1571.5C762.2 1569.8 766.2 1568.1 770.2 1566.5C774.2 1564.9 778.2 1563.3 782.2 1561.7C786.2 1560.1 790.2 1558.6 794.2 1557.1C798.2 1555.6 802.2 1554.1 806.2 1552.7C810.2 1551.3 814.2 1550 818.2 1548.6C822.2 1547.3 826.2 1546 830.2 1544.8C834.2 1543.5 838.2 1542.3 842.2 1541.1C846.2 1539.9 850.2 1538.8 854.2 1537.6C858.2 1536.5 862.2 1535.3 866.2 1534.2C870.2 1533 874.2 1531.9 878.2 1530.8C882.2 1529.7 886.2 1528.5 890.2 1527.4C894.2 1526.3 898.2 1525.1 902.1 1523.9C906.1 1522.8 910.1 1521.6 914.1 1520.4C918.1 1519.2 922.1 1517.9 926.1 1516.7C930.1 1515.4 934.1 1514.1 938.1 1512.7C942.1 1511.4 946.1 1510 950.1 1508.6C954.1 1507.1 958.1 1505.7 962.1 1504.2C966.1 1502.7 970.1 1501.2 974.1 1499.7C978.1 1498.2 982.1 1496.6 986.1 1495.1C990.1 1493.5 994.1 1491.9 998.1 1490.4C1002.1 1488.8 1006.1 1487.2 1010.1 1485.6C1014.1 1484.1 1018.1 1482.5 1022.1 1480.9C1026.1 1479.3 1030.1 1477.8 1034.1 1476.2C1038.1 1474.7 1042.1 1473.2 1046.1 1471.7C1050.1 1470.2 1054.1 1468.7 1058.1 1467.2C1062.1 1465.8 1066.1 1464.3 1070.1 1462.9C1074.1 1461.5 1078.1 1460.2 1082.1 1458.9C1086.1 1457.5 1090.1 1456.3 1094.1 1455C1098.1 1453.6 1102.1 1452.4 1106.1 1451C1110.1 1449.7 1114.1 1448.4 1118.1 1447C1122.1 1445.6 1126.1 1444.1 1130.1 1442.6C1134.1 1441.1 1138.1 1439.5 1142.1 1437.9C1146.1 1436.2 1150.1 1434.4 1154.1 1432.5C1158.1 1430.6 1162.1 1428.7 1166.1 1426.5C1170.1 1424.4 1174.1 1422.1 1178.1 1419.7C1182.1 1417.2 1186.1 1414.6 1190.1 1411.9C1194.1 1409.1 1198.1 1406.2 1202.1 1403.3C1206.1 1400.4 1210.1 1397.4 1214.1 1394.5C1218.1 1391.6 1222.1 1388.7 1226.1 1385.9C1230.1 1383.2 1234.1 1380.5 1238.1 1378C1242.1 1375.6 1246.1 1373.3 1250.1 1371.3C1254.1 1369.3 1258.1 1367.5 1262.1 1365.8C1266.1 1364.1 1270.1 1362.6 1274.1 1361C1278.1 1359.4 1282.1 1357.9 1286.1 1356.3C1290.1 1354.6 1294.1 1353 1298.1 1351.1C1302.1 1349.1 1306.1 1347 1310.1 1344.7C1314.1 1342.4 1318.1 1339.8 1322.1 1337.2C1326.1 1334.5 1330.1 1331.7 1334.1 1328.9C1338.1 1326 1342.1 1323.1 1346.1 1320.2C1350.1 1317.4 1354.1 1314.5 1358.1 1311.7C1362.1 1309 1366.1 1306.3 1370.1 1303.9C1374.1 1301.4 1378.1 1299.2 1382.1 1297C1386.1 1294.9 1390.1 1292.9 1394.1 1290.9C1398.1 1288.9 1402.1 1287 1406.1 1285.1C1410.1 1283.1 1414.1 1281.1 1418.1 1279C1422.1 1276.9 1426.1 1274.8 1430.1 1272.4C1434.1 1270 1438.1 1267.4 1442.1 1264.7C1446.1 1261.9 1450.1 1258.9 1454.1 1255.9C1458.1 1252.9 1462.1 1249.6 1466.1 1246.5C1470.1 1243.3 1474.1 1240 1478.1 1236.8C1482.1 1233.6 1486.1 1230.3 1490.1 1227.3C1494.1 1224.2 1498.1 1221.2 1502.1 1218.4C1506.1 1215.6 1510.1 1213 1514.1 1210.4C1518.1 1207.8 1522.1 1205.4 1526.1 1203C1530.1 1200.6 1534.1 1198.3 1538.1 1196C1542.1 1193.7 1546.1 1191.4 1550.1 1189C1554.1 1186.7 1558.1 1184.3 1562.1 1181.8C1566.1 1179.3 1570.1 1176.8 1574.1 1174.1C1578.1 1171.4 1582.1 1168.5 1586.1 1165.6C1590.1 1162.7 1594.1 1159.6 1598.1 1156.5C1602.1 1153.5 1606.1 1150.3 1610.1 1147.1C1614.1 1143.9 1618.1 1140.6 1622.1 1137.3C1626.1 1134.1 1630.1 1130.8 1634.1 1127.5C1638.1 1124.2 1642.1 1121 1646.1 1117.8C1650.1 1114.6 1654.1 1111.4 1658.1 1108.2C1662.1 1105 1666.1 1101.9 1670.1 1098.7C1674.1 1095.5 1678.1 1092.3 1682.1 1089C1686.1 1085.8 1690.1 1082.5 1694.1 1079.1C1698.1 1075.7 1702.1 1072.3 1706.1 1068.7C1710.1 1065.2 1714.1 1061.6 1718.1 1058C1722.1 1054.3 1726.1 1050.6 1730.1 1046.8C1734 1043 1738 1039.1 1742 1035.2C1746 1031.3 1750 1027.3 1754 1023.3C1758 1019.2 1762 1015.1 1766 1011C1770 1006.8 1774 1002.6 1778 998.4C1782 994.1 1786 989.8 1790 985.5C1794 981.1 1798 976.8 1802 972.3C1806 967.9 1810 963.4 1814 958.9C1818 954.4 1822 949.8 1826 945.2C1830 940.6 1834 936 1838 931.3C1842 926.6 1846 921.9 1850 917.2C1854 912.5 1858 907.7 1862 903C1866 898.2 1870 893.4 1874 888.6C1878 883.7 1882 878.9 1886 874C1890 869.1 1894 864.2 1898 859.3C1902 854.3 1906 849.3 1910 844.3C1914 839.3 1918 834.2 1922 829.1C1926 824 1930 818.8 1934 813.5C1938 808.3 1942 803 1946 797.6C1950 792.2 1954 786.7 1958 781.2C1962 775.7 1966 770.1 1970 764.3C1974 758.6 1978 752.8 1982 746.9C1986 741 1990 735.1 1994 729C1998 722.9 2002 716.7 2006 710.3C2010 704 2014 697.6 2018 691C2022 684.4 2026 677.8 2030 670.9C2034 664.1 2038 657.2 2042 650.1C2046 643 2050 635.7 2054 628.4C2058 621.1 2062 613.6 2066 606.1C2070 598.6 2074 591 2078 583.5C2082 575.9 2086 568.2 2090 560.6C2094 553.1 2098 545.4 2102 537.9C2106 530.4 2110 522.9 2114 515.5C2118 508.1 2122 500.8 2126 493.6C2130 486.5 2134 479.4 2138 472.6C2142 465.7 2145.8 459.2 2150 452.8C2154.2 446.3 2158.8 439.8 2163.5 433.7C2168.2 427.6 2173.7 420.6 2178 416.3C2182.1 412.2 2186 409.5 2189.6 407.6C2193.2 405.7 2197 404.6 2199.8 404.7C2202.6 404.8 2205.1 405.8 2206.5 408.5C2208.2 411.7 2209.7 417.7 2209.7 424L2209.7 900"/>
<path stroke="#FF8000" d="M548 1662.5C550 1661.9 556 1660.2 560 1659C563.9 1657.8 567.9 1656.6 571.9 1655.5C575.9 1654.3 579.9 1653.1 583.9 1651.9C587.9 1650.7 591.8 1649.5 595.8 1648.3C599.8 1647 603.8 1645.8 607.8 1644.6C611.8 1643.3 615.7 1642.1 619.7 1640.9C623.7 1639.6 627.7 1638.4 631.7 1637.1C635.7 1635.8 639.7 1634.6 643.6 1633.3C647.6 1632 651.6 1630.7 655.6 1629.4C659.6 1628.2 663.6 1626.9 667.6 1625.5C671.5 1624.2 675.5 1622.9 679.5 1621.6C683.5 1620.3 687.5 1618.9 691.5 1617.6C695.4 1616.3 699.4 1614.9 703.4 1613.6C707.4 1612.2 711.4 1610.8 715.4 1609.5C719.4 1608.1 723.3 1606.7 727.3 1605.3C731.3 1603.9 735.3 1602.5 739.3 1601.1C743.3 1599.7 747.3 1598.3 751.2 1596.9C755.2 1595.4 759.2 1594 763.2 1592.6C767.2 1591.1 771.2 1589.7 775.1 1588.2C779.1 1586.7 783.1 1585.3 787.1 1583.8C791.1 1582.3 795.1 1580.8 799.1 1579.3C803 1577.8 807 1576.3 811 1574.8C815 1573.3 819 1571.7 823 1570.2C827 1568.7 830.9 1567.1 834.9 1565.6C838.9 1564 842.9 1562.4 846.9 1560.9C850.9 1559.3 854.9 1557.7 858.8 1556.2C862.8 1554.6 866.8 1553 870.8 1551.4C874.8 1549.8 878.8 1548.2 882.7 1546.6C886.7 1545 890.7 1543.4 894.7 1541.8C898.7 1540.2 902.7 1538.6 906.7 1537C910.6 1535.4 914.6 1533.8 918.6 1532.2C922.6 1530.6 926.6 1529 930.6 1527.4C934.6 1525.8 938.5 1524.2 942.5 1522.6C946.5 1521 950.5 1519.3 954.5 1517.7C958.5 1516.1 962.4 1514.5 966.4 1512.9C970.4 1511.3 974.4 1509.7 978.4 1508C982.4 1506.4 986.4 1504.8 990.3 1503.1C994.3 1501.5 998.3 1499.8 1002.3 1498.2C1006.3 1496.5 1010.3 1494.8 1014.3 1493.1C1018.2 1491.4 1022.2 1489.7 1026.2 1488C1030.2 1486.3 1034.2 1484.6 1038.2 1482.8C1042.1 1481.1 1046.1 1479.3 1050.1 1477.5C1054.1 1475.7 1058.1 1473.9 1062.1 1472.1C1066.1 1470.2 1070 1468.4 1074 1466.5C1078 1464.6 1082 1462.7 1086 1460.8C1090 1458.9 1094 1456.9 1097.9 1454.9C1101.9 1453 1105.9 1450.9 1109.9 1448.9C1113.9 1446.9 1117.9 1444.8 1121.9 1442.8C1125.8 1440.7 1129.8 1438.6 1133.8 1436.5C1137.8 1434.4 1141.8 1432.3 1145.8 1430.1C1149.7 1428 1153.7 1425.9 1157.7 1423.7C1161.7 1421.6 1165.7 1419.5 1169.7 1417.3C1173.7 1415.2 1177.6 1413.1 1181.6 1411C1185.6 1408.8 1189.6 1406.7 1193.6 1404.6C1197.6 1402.5 1201.6 1400.5 1205.5 1398.4C1209.5 1396.3 1213.5 1394.3 1217.5 1392.3C1221.5 1390.2 1225.5 1388.2 1229.4 1386.3C1233.4 1384.3 1237.4 1382.4 1241.4 1380.4C1245.4 1378.5 1249.4 1376.6 1253.4 1374.7C1257.3 1372.8 1261.3 1370.9 1265.3 1369C1269.3 1367.1 1273.3 1365.2 1277.3 1363.2C1281.3 1361.3 1285.2 1359.4 1289.2 1357.4C1293.2 1355.4 1297.2 1353.4 1301.2 1351.4C1305.2 1349.4 1309.1 1347.3 1313.1 1345.2C1317.1 1343 1321.1 1340.9 1325.1 1338.6C1329.1 1336.4 1333.1 1334.1 1337 1331.8C1341 1329.5 1345 1327.1 1349 1324.7C1353 1322.4 1357 1319.9 1361 1317.5C1364.9 1315.1 1368.9 1312.7 1372.9 1310.3C1376.9 1307.9 1380.9 1305.5 1384.9 1303.1C1388.9 1300.7 1392.8 1298.3 1396.8 1296C1400.8 1293.7 1404.8 1291.4 1408.8 1289.2C1412.8 1286.9 1416.7 1284.7 1420.7 1282.6C1424.7 1280.5 1428.7 1278.4 1432.7 1276.4C1436.7 1274.4 1440.7 1272.4 1444.6 1270.4C1448.6 1268.4 1452.6 1266.5 1456.6 1264.5C1460.6 1262.5 1464.6 1260.5 1468.6 1258.5C1472.5 1256.5 1476.5 1254.5 1480.5 1252.5C1484.5 1250.4 1488.5 1248.3 1492.5 1246.1C1496.4 1244 1500.4 1241.8 1504.4 1239.5C1508.4 1237.3 1512.4 1235 1516.4 1232.7C1520.4 1230.4 1524.3 1228 1528.3 1225.6C1532.3 1223.3 1536.3 1220.8 1540.3 1218.4C1544.3 1216 1548.3 1213.5 1552.2 1211.1C1556.2 1208.6 1560.2 1206.1 1564.2 1203.6C1568.2 1201.1 1572.2 1198.6 1576.1 1196.1C1580.1 1193.5 1584.1 1191 1588.1 1188.5C1592.1 1185.9 1596.1 1183.4 1600.1 1180.8C1604 1178.3 1608 1175.7 1612 1173.1C1616 1170.5 1620 1167.9 1624 1165.3C1628 1162.7 1631.9 1160.1 1635.9 1157.5C1639.9 1154.9 1643.9 1152.2 1647.9 1149.6C1651.9 1146.9 1655.9 1144.3 1659.8 1141.6C1663.8 1138.9 1667.8 1136.2 1671.8 1133.5C1675.8 1130.8 1679.8 1128.1 1683.7 1125.3C1687.7 1122.6 1691.7 1119.9 1695.7 1117.1C1699.7 1114.3 1703.7 1111.6 1707.7 1108.8C1711.6 1106 1715.6 1103.2 1719.6 1100.4C1723.6 1097.5 1727.6 1094.7 1731.6 1091.8C1735.6 1089 1739.5 1086.1 1743.5 1083.2C1747.5 1080.3 1751.5 1077.3 1755.5 1074.4C1759.5 1071.4 1763.4 1068.4 1767.4 1065.4C1771.4 1062.4 1775.4 1059.4 1779.4 1056.3C1783.4 1053.2 1787.4 1050.1 1791.3 1047C1795.3 1043.8 1799.3 1040.6 1803.3 1037.4C1807.3 1034.2 1811.3 1031 1815.3 1027.7C1819.2 1024.4 1823.2 1021.1 1827.2 1017.7C1831.2 1014.4 1835.2 1011 1839.2 1007.5C1843.1 1004.1 1847.1 1000.6 1851.1 997C1855.1 993.5 1859.1 989.9 1863.1 986.3C1867.1 982.6 1871 979 1875 975.2C1879 971.5 1883 967.7 1887 963.9C1891 960 1895 956.1 1898.9 952.2C1902.9 948.2 1906.9 944.2 1910.9 940.1C1914.9 936.1 1918.9 931.9 1922.9 927.7C1926.8 923.5 1930.8 919.2 1934.8 914.8C1938.8 910.5 1942.8 906 1946.8 901.5C1950.7 897 1954.7 892.3 1958.7 887.6C1962.7 882.9 1966.7 878.2 1970.7 873.3C1974.7 868.4 1978.6 863.4 1982.6 858.3C1986.6 853.2 1990.6 848.1 1994.6 842.8C1998.6 837.5 2002.6 832.1 2006.5 826.6C2010.5 821.1 2014.5 815.6 2018.5 809.9C2022.5 804.3 2026.5 798.6 2030.4 792.8C2034.4 787.1 2038.4 781.3 2042.4 775.4C2046.4 769.6 2050.4 763.7 2054.4 757.9C2058.3 752 2062.3 746.1 2066.3 740.2C2070.3 734.3 2074.3 728.4 2078.3 722.5C2082.3 716.7 2086.2 710.8 2090.2 705C2094.2 699.2 2098.2 693.5 2102.2 687.8C2106.2 682.1 2110.1 676.4 2114.1 670.8C2118.1 665.2 2122.1 659.7 2126.1 654.3C2130.1 648.8 2134.1 643.5 2138 638.2C2142 632.9 2145.8 628 2150 622.7C2154.2 617.3 2159 610.2 2163.5 606C2168 601.8 2172.9 599.5 2177 597.5C2181.1 595.5 2184.3 593.7 2188 594C2191.7 594.3 2196.2 596.7 2199 599.5C2201.8 602.3 2203.2 606.1 2204.5 611C2205.9 616.4 2206.7 623.6 2207.5 632C2208.3 640.8 2209.3 651.2 2209.4 664L2209.7 1144.4" stroke-linecap="butt"/>
<path stroke="#00FFFF" d="M538.8 1635.6C540.8 1634.9 546.8 1632.7 550.8 1631.2C554.8 1629.7 558.8 1628.3 562.8 1626.8C566.9 1625.3 570.9 1623.8 574.9 1622.3C578.9 1620.9 582.9 1619.4 586.9 1617.9C590.9 1616.4 594.9 1614.9 598.9 1613.4C602.9 1611.8 606.9 1610.3 610.9 1608.8C615 1607.3 619 1605.8 623 1604.2C627 1602.7 631 1601.2 635 1599.6C639 1598.1 643 1596.6 647 1595C651 1593.5 655 1591.9 659 1590.4C663 1588.8 667.1 1587.3 671.1 1585.7C675.1 1584.1 679.1 1582.6 683.1 1581C687.1 1579.4 691.1 1577.9 695.1 1576.3C699.1 1574.7 703.1 1573.1 707.1 1571.6C711.1 1570 715.2 1568.4 719.2 1566.8C723.2 1565.2 727.2 1563.6 731.2 1562C735.2 1560.5 739.2 1558.9 743.2 1557.3C747.2 1555.7 751.2 1554.1 755.2 1552.5C759.2 1550.9 763.2 1549.3 767.3 1547.7C771.3 1546.1 775.3 1544.4 779.3 1542.8C783.3 1541.2 787.3 1539.6 791.3 1538C795.3 1536.4 799.3 1534.8 803.3 1533.2C807.3 1531.6 811.3 1529.9 815.3 1528.3C819.4 1526.7 823.4 1525.1 827.4 1523.5C831.4 1521.9 835.4 1520.2 839.4 1518.6C843.4 1517 847.4 1515.4 851.4 1513.7C855.4 1512.1 859.4 1510.5 863.4 1508.9C867.5 1507.2 871.5 1505.6 875.5 1504C879.5 1502.3 883.5 1500.7 887.5 1499C891.5 1497.4 895.5 1495.7 899.5 1494.1C903.5 1492.4 907.5 1490.8 911.5 1489.1C915.5 1487.5 919.6 1485.8 923.6 1484.1C927.6 1482.5 931.6 1480.8 935.6 1479.1C939.6 1477.5 943.6 1475.8 947.6 1474.1C951.6 1472.4 955.6 1470.7 959.6 1469C963.6 1467.3 967.7 1465.6 971.7 1463.9C975.7 1462.2 979.7 1460.5 983.7 1458.8C987.7 1457 991.7 1455.3 995.7 1453.6C999.7 1451.8 1003.7 1450.1 1007.7 1448.3C1011.7 1446.6 1015.7 1444.8 1019.8 1443.1C1023.8 1441.3 1027.8 1439.5 1031.8 1437.8C1035.8 1436 1039.8 1434.2 1043.8 1432.4C1047.8 1430.6 1051.8 1428.8 1055.8 1427C1059.8 1425.2 1063.8 1423.4 1067.9 1421.5C1071.9 1419.7 1075.9 1417.9 1079.9 1416C1083.9 1414.2 1087.9 1412.3 1091.9 1410.5C1095.9 1408.6 1099.9 1406.7 1103.9 1404.8C1107.9 1403 1111.9 1401.1 1115.9 1399.2C1120 1397.2 1124 1395.3 1128 1393.4C1132 1391.5 1136 1389.5 1140 1387.6C1144 1385.6 1148 1383.6 1152 1381.6C1156 1379.7 1160 1377.7 1164 1375.6C1168 1373.6 1172.1 1371.6 1176.1 1369.5C1180.1 1367.5 1184.1 1365.4 1188.1 1363.3C1192.1 1361.2 1196.1 1359.1 1200.1 1357C1204.1 1354.9 1208.1 1352.7 1212.1 1350.6C1216.1 1348.5 1220.2 1346.3 1224.2 1344.1C1228.2 1342 1232.2 1339.8 1236.2 1337.6C1240.2 1335.5 1244.2 1333.3 1248.2 1331.1C1252.2 1329 1256.2 1326.8 1260.2 1324.6C1264.2 1322.4 1268.2 1320.3 1272.3 1318.1C1276.3 1315.9 1280.3 1313.8 1284.3 1311.6C1288.3 1309.5 1292.3 1307.4 1296.3 1305.2C1300.3 1303.1 1304.3 1301 1308.3 1298.9C1312.3 1296.8 1316.3 1294.7 1320.4 1292.7C1324.4 1290.6 1328.4 1288.6 1332.4 1286.6C1336.4 1284.5 1340.4 1282.5 1344.4 1280.5C1348.4 1278.5 1352.4 1276.5 1356.4 1274.5C1360.4 1272.5 1364.4 1270.6 1368.4 1268.6C1372.5 1266.6 1376.5 1264.6 1380.5 1262.5C1384.5 1260.5 1388.5 1258.5 1392.5 1256.5C1396.5 1254.4 1400.5 1252.3 1404.5 1250.2C1408.5 1248.1 1412.5 1246 1416.5 1243.9C1420.6 1241.7 1424.6 1239.5 1428.6 1237.3C1432.6 1235.1 1436.6 1232.9 1440.6 1230.6C1444.6 1228.3 1448.6 1226.1 1452.6 1223.8C1456.6 1221.5 1460.6 1219.2 1464.6 1216.9C1468.6 1214.6 1472.7 1212.3 1476.7 1209.9C1480.7 1207.6 1484.7 1205.3 1488.7 1203C1492.7 1200.7 1496.7 1198.4 1500.7 1196.2C1504.7 1193.9 1508.7 1191.6 1512.7 1189.3C1516.7 1187 1520.8 1184.8 1524.8 1182.5C1528.8 1180.2 1532.8 1177.9 1536.8 1175.7C1540.8 1173.4 1544.8 1171.1 1548.8 1168.8C1552.8 1166.6 1556.8 1164.3 1560.8 1162C1564.8 1159.7 1568.8 1157.4 1572.9 1155.1C1576.9 1152.8 1580.9 1150.5 1584.9 1148.2C1588.9 1145.9 1592.9 1143.6 1596.9 1141.3C1600.9 1138.9 1604.9 1136.6 1608.9 1134.3C1612.9 1131.9 1616.9 1129.5 1620.9 1127.2C1625 1124.8 1629 1122.4 1633 1120C1637 1117.5 1641 1115.1 1645 1112.7C1649 1110.2 1653 1107.7 1657 1105.2C1661 1102.7 1665 1100.2 1669 1097.7C1673.1 1095.1 1677.1 1092.6 1681.1 1090C1685.1 1087.4 1689.1 1084.7 1693.1 1082.1C1697.1 1079.4 1701.1 1076.7 1705.1 1074C1709.1 1071.3 1713.1 1068.6 1717.1 1065.8C1721.1 1063 1725.2 1060.2 1729.2 1057.3C1733.2 1054.5 1737.2 1051.6 1741.2 1048.6C1745.2 1045.7 1749.2 1042.7 1753.2 1039.7C1757.2 1036.7 1761.2 1033.7 1765.2 1030.6C1769.2 1027.6 1773.3 1024.5 1777.3 1021.3C1781.3 1018.2 1785.3 1015 1789.3 1011.8C1793.3 1008.6 1797.3 1005.3 1801.3 1002.1C1805.3 998.8 1809.3 995.5 1813.3 992.2C1817.3 988.8 1821.3 985.5 1825.4 982.1C1829.4 978.6 1833.4 975.2 1837.4 971.8C1841.4 968.3 1845.4 964.8 1849.4 961.3C1853.4 957.7 1857.4 954.2 1861.4 950.6C1865.4 947 1869.4 943.4 1873.5 939.8C1877.5 936.1 1881.5 932.4 1885.5 928.7C1889.5 925 1893.5 921.2 1897.5 917.4C1901.5 913.6 1905.5 909.8 1909.5 905.9C1913.5 902 1917.5 898 1921.5 894C1925.6 890 1929.6 885.9 1933.6 881.8C1937.6 877.6 1941.6 873.4 1945.6 869.2C1949.6 864.9 1953.6 860.6 1957.6 856.2C1961.6 851.7 1965.6 847.3 1969.6 842.7C1973.6 838.1 1977.7 833.5 1981.7 828.7C1985.7 824 1989.7 819.2 1993.7 814.3C1997.7 809.4 2001.7 804.4 2005.7 799.3C2009.7 794.3 2013.7 789.2 2017.7 784C2021.7 778.8 2025.8 773.6 2029.8 768.3C2033.8 763 2037.8 757.7 2041.8 752.3C2045.8 747 2049.8 741.6 2053.8 736.2C2057.8 730.7 2061.8 725.3 2065.8 719.8C2069.8 714.4 2073.8 708.8 2077.9 703.4C2081.9 697.9 2085.9 692.4 2089.9 687C2093.9 681.6 2097.9 676.2 2101.9 671C2105.9 665.7 2109.9 660.5 2113.9 655.6C2117.9 650.6 2121.9 645.7 2126 641C2130 636.4 2134 631.8 2138 627.6C2142 623.4 2145.7 619.8 2150 615.7C2154.3 611.6 2158.8 606.9 2163.5 603C2168.2 599.1 2174 594.6 2178 592.3C2181.5 590.3 2184.1 588.9 2187.5 589.4C2190.9 589.9 2195.5 592.3 2198.3 595.2C2201.1 598.1 2202.8 601.8 2204.1 606.8C2205.5 612.4 2206.2 619.8 2207 628.6C2207.8 637.5 2208.7 647.4 2208.8 660L2209.7 1099.5"/>
</g>
<g stroke="#000" fill="none" stroke-linecap="butt">
<line x1="275.3" y1="98" x2="275.3" y2="1840" stroke-width="12.5"/>
<line x1="2424.4" y1="98" x2="2424.4" y2="1840" stroke-width="10.6"/>
<line x1="269.1" y1="104.2" x2="2431.8" y2="104.2" stroke-width="12.5"/>
<line x1="269.1" y1="1833.7" x2="2431.8" y2="1833.7" stroke-width="12.5"/>
<line x1="258.3" y1="1833.7" x2="275.3" y2="1833.7" stroke-width="12.5"/>
<line x1="241.3" y1="1732" x2="275.3" y2="1732" stroke-width="12.5"/>
<line x1="258.3" y1="1630.2" x2="275.3" y2="1630.2" stroke-width="12.5"/>
<line x1="241.3" y1="1528.5" x2="275.3" y2="1528.5" stroke-width="12.5"/>
<line x1="258.3" y1="1426.8" x2="275.3" y2="1426.8" stroke-width="12.5"/>
<line x1="241.3" y1="1325" x2="275.3" y2="1325" stroke-width="12.5"/>
<line x1="258.3" y1="1223.3" x2="275.3" y2="1223.3" stroke-width="12.5"/>
<line x1="241.3" y1="1121.6" x2="275.3" y2="1121.6" stroke-width="12.5"/>
<line x1="258.3" y1="1019.8" x2="275.3" y2="1019.8" stroke-width="12.5"/>
<line x1="241.3" y1="918.1" x2="275.3" y2="918.1" stroke-width="12.5"/>
<line x1="258.3" y1="816.3" x2="275.3" y2="816.3" stroke-width="12.5"/>
<line x1="241.3" y1="714.6" x2="275.3" y2="714.6" stroke-width="12.5"/>
<line x1="258.3" y1="612.9" x2="275.3" y2="612.9" stroke-width="12.5"/>
<line x1="241.3" y1="511.1" x2="275.3" y2="511.1" stroke-width="12.5"/>
<line x1="258.3" y1="409.4" x2="275.3" y2="409.4" stroke-width="12.5"/>
<line x1="241.3" y1="307.7" x2="275.3" y2="307.7" stroke-width="12.5"/>
<line x1="258.3" y1="205.9" x2="275.3" y2="205.9" stroke-width="12.5"/>
<line x1="241.3" y1="104.2" x2="275.3" y2="104.2" stroke-width="12.5"/>
<line x1="275.3" y1="1833.7" x2="275.3" y2="1867.7" stroke-width="11.5"/>
<line x1="382.8" y1="1833.7" x2="382.8" y2="1850.7" stroke-width="11.5"/>
<line x1="490.2" y1="1833.7" x2="490.2" y2="1867.7" stroke-width="11.5"/>
<line x1="597.7" y1="1833.7" x2="597.7" y2="1850.7" stroke-width="11.5"/>
<line x1="705.1" y1="1833.7" x2="705.1" y2="1867.7" stroke-width="11.5"/>
<line x1="812.6" y1="1833.7" x2="812.6" y2="1850.7" stroke-width="11.5"/>
<line x1="920" y1="1833.7" x2="920" y2="1867.7" stroke-width="11.5"/>
<line x1="1027.5" y1="1833.7" x2="1027.5" y2="1850.7" stroke-width="11.5"/>
<line x1="1134.9" y1="1833.7" x2="1134.9" y2="1867.7" stroke-width="11.5"/>
<line x1="1242.4" y1="1833.7" x2="1242.4" y2="1850.7" stroke-width="11.5"/>
<line x1="1349.8" y1="1833.7" x2="1349.8" y2="1867.7" stroke-width="11.5"/>
<line x1="1457.3" y1="1833.7" x2="1457.3" y2="1850.7" stroke-width="11.5"/>
<line x1="1564.8" y1="1833.7" x2="1564.8" y2="1867.7" stroke-width="11.5"/>
<line x1="1672.2" y1="1833.7" x2="1672.2" y2="1850.7" stroke-width="11.5"/>
<line x1="1779.7" y1="1833.7" x2="1779.7" y2="1867.7" stroke-width="11.5"/>
<line x1="1887.1" y1="1833.7" x2="1887.1" y2="1850.7" stroke-width="11.5"/>
<line x1="1994.6" y1="1833.7" x2="1994.6" y2="1867.7" stroke-width="11.5"/>
<line x1="2102" y1="1833.7" x2="2102" y2="1850.7" stroke-width="11.5"/>
<line x1="2209.5" y1="1833.7" x2="2209.5" y2="1867.7" stroke-width="11.5"/>
<line x1="2316.9" y1="1833.7" x2="2316.9" y2="1850.7" stroke-width="11.5"/>
<line x1="2424.4" y1="1833.7" x2="2424.4" y2="1867.7" stroke-width="11.5"/>
</g>
<g class="tk" text-anchor="end">
<text x="218" y="1752">2</text>
<text x="218" y="1548.5">4</text>
<text x="218" y="1345">6</text>
<text x="218" y="1141.6">8</text>
<text x="218" y="938.1">10</text>
<text x="218" y="734.6">12</text>
<text x="218" y="531.1">14</text>
<text x="218" y="327.7">16</text>
<text x="218" y="124.2">18</text>
</g>
<g class="tk" text-anchor="middle">
<text x="274.3" y="1948">-18</text>
<text x="489.2" y="1948">-16</text>
<text x="704.1" y="1948">-14</text>
<text x="919" y="1948">-12</text>
<text x="1133.9" y="1948">-10</text>
<text x="1348.8" y="1948">-8</text>
<text x="1563.8" y="1948">-6</text>
<text x="1778.7" y="1948">-4</text>
<text x="1993.6" y="1948">-2</text>
<text x="2208.5" y="1948">0</text>
<text x="2423.4" y="1948">2</text>
</g>
<g fill="none" stroke-width="12.5" stroke-linecap="round">
<line x1="383.2" y1="182.3" x2="580.2" y2="182.3" stroke="#000000"/>
<line x1="383.2" y1="295.1" x2="580.2" y2="295.1" stroke="#F04040"/>
<line x1="383.2" y1="407.8" x2="580.2" y2="407.8" stroke="#0000FF"/>
<line x1="383.2" y1="520.5" x2="580.2" y2="520.5" stroke="#00FF00"/>
<line x1="383.2" y1="633.3" x2="580.2" y2="633.3" stroke="#FF00FF"/>
<line x1="383.2" y1="746" x2="580.2" y2="746" stroke="#FF8000"/>
<line x1="383.2" y1="858.8" x2="580.2" y2="858.8" stroke="#00FFFF"/>
</g>
<g class="lg">
<text x="605.6" y="213.1">Pure epoxy</text>
<text x="605.6" y="326">E-HNT</text>
<text x="605.6" y="438.8">E-HNT-L</text>
<text x="605.6" y="551.7">E-CAT-HNT</text>
<text x="605.6" y="664.6">E-CAT-HNT-L</text>
<text x="605.6" y="777.5">E-CAP-HNT</text>
<text x="605.6" y="890.3">E-CAP-HNT-L</text>
</g>
<text class="ti" y="2099" x="1215.8 1242.5 1292.2 1320.3 1366.7">ln(1-</text>
<text class="i n" font-size="89" transform="translate(1401.6 2099) scale(1.18 1)">α</text>
<text class="ti" y="2099" x="1453.9">)</text>
<g transform="translate(103.9 0) rotate(-90)">
<text class="ti" y="0" x="-1125 -1099.7 -1046.3">lnA</text>
<text class="ti" y="0" x="-1012"> </text>
<text class="i" font-size="87" transform="translate(-969 0) skewX(-17.7)">f</text>
<text class="ti" y="0" x="-929.3">(</text>
<text class="i n" font-size="89" transform="translate(-894.4 0) scale(1.13 1)">α</text>
<text class="ti" y="0" x="-843.2">)</text>
</g>
</svg>
</body></html>
